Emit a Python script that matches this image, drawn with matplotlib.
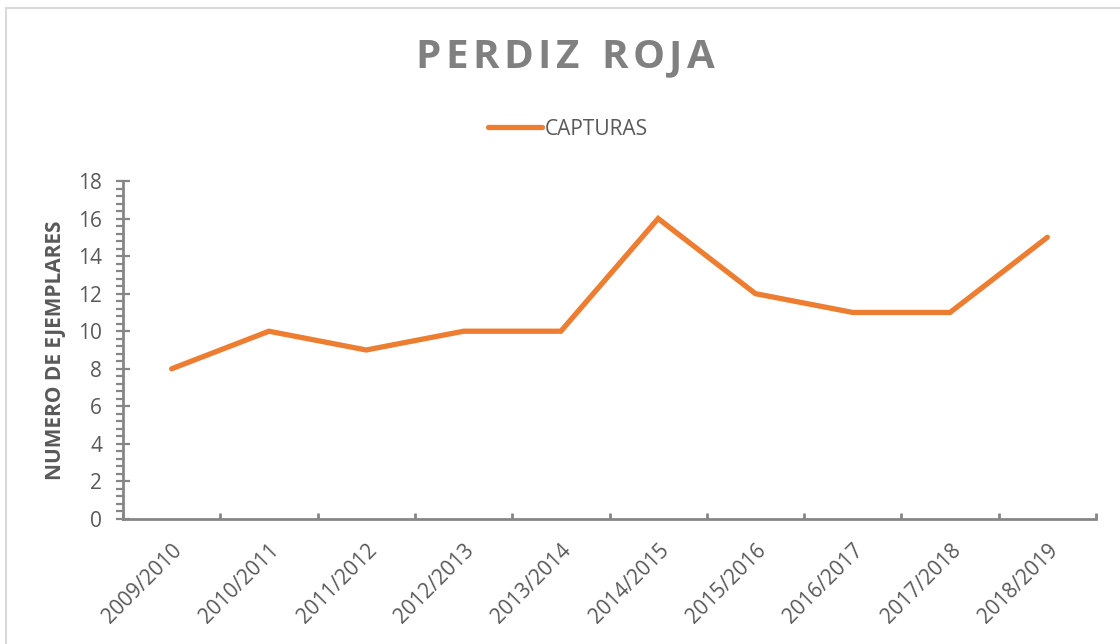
import matplotlib
matplotlib.use("Agg")
import matplotlib.pyplot as plt
from matplotlib.lines import Line2D
from matplotlib.ticker import MultipleLocator, FixedLocator

categories = ["2009/2010", "2010/2011", "2011/2012", "2012/2013", "2013/2014",
              "2014/2015", "2015/2016", "2016/2017", "2017/2018", "2018/2019"]
capturas = [8, 10, 9, 10, 10, 16, 12, 11, 11, 15]
title = "PERDIZ ROJA"
series_name = "CAPTURAS"
ylabel = "NUMERO DE EJEMPLARES"

ORANGE = "#ED7D31"
AXIS = "#868686"
TXT = "#595959"
FONT = "Open Sans"
FS = 15

W, H = 1120, 644
fig = plt.figure(figsize=(W / 100, H / 100), dpi=100)
fig.patch.set_facecolor("white")

ax = fig.add_axes([123 / W, 1 - 519 / H, (1096 - 123) / W, (519 - 181) / H])
x = list(range(len(categories)))
ax.plot(x, capturas, color=ORANGE, lw=3.8, solid_capstyle="round", solid_joinstyle="miter",
        label=series_name)

ax.set_xlim(-0.5, len(categories) - 0.5)
ax.set_ylim(0, 18)
for s in ["top", "right"]:
    ax.spines[s].set_visible(False)
for s in ["left", "bottom"]:
    ax.spines[s].set_color(AXIS)
    ax.spines[s].set_linewidth(2.0)

ax.yaxis.set_major_locator(MultipleLocator(2))
ax.yaxis.set_minor_locator(MultipleLocator(0.4))
ax.tick_params(axis="y", which="major", direction="inout", length=10, width=1.6,
               color=AXIS, labelsize=FS, labelcolor=TXT, pad=10)
ax.tick_params(axis="y", which="minor", direction="out", length=5, width=1.6, color=AXIS)
for lab in ax.get_yticklabels():
    lab.set_fontfamily(FONT)

# category ticks at boundaries, labels at centers
ax.xaxis.set_major_locator(FixedLocator([i - 0.5 for i in range(len(categories) + 1)]))
ax.xaxis.set_major_formatter(plt.NullFormatter())
ax.xaxis.set_minor_locator(FixedLocator(x))
ax.set_xticks(x, categories, minor=True)
ax.tick_params(axis="x", which="major", direction="in", length=4.5, width=2.0, color=AXIS)
ax.tick_params(axis="x", which="minor", length=0, labelsize=FS, labelcolor=TXT, pad=15)
for lab in ax.get_xticklabels(minor=True):
    lab.set_rotation(45)
    lab.set_ha("right")
    lab.set_va("top")
    lab.set_rotation_mode("anchor")
    lab.set_fontfamily(FONT)

ax.set_ylabel(ylabel, fontsize=FS, fontweight="bold", color=TXT, fontfamily=FONT)
ax.yaxis.set_label_coords((55 - 123) / 973, 0.5)
ax.yaxis.label.set_va("center")

# title with letter spacing
fig.canvas.draw()
renderer = fig.canvas.get_renderer()
tprops = dict(fontsize=29, fontweight="bold", color="#808080", fontfamily=FONT, va="center")
spacing = 4.5  # px
widths = []
for ch in title:
    t = fig.text(0, 0, ch if ch != " " else "I", **tprops)
    w = t.get_window_extent(renderer).width
    if ch == " ":
        w *= 1.0
    widths.append(w)
    t.remove()
total = sum(widths) + spacing * (len(title) - 1)
xpos = 565 - total / 2
for ch, w in zip(title, widths):
    if ch != " ":
        fig.text(xpos / W, 1 - 58 / H, ch, ha="left", **tprops)
    xpos += w + spacing

handle = Line2D([], [], color=ORANGE, lw=3.8, solid_capstyle="round")
leg = fig.legend([handle], [series_name], loc="center", bbox_to_anchor=(568 / W, 1 - 129 / H),
                 frameon=False, handlelength=2.6, handletextpad=0.12,
                 prop={"family": FONT, "size": FS})
for t in leg.get_texts():
    t.set_color(TXT)

# chart border (top and left visible)
fig.add_artist(Line2D([6 / W, 1], [1 - 8 / H, 1 - 8 / H], transform=fig.transFigure,
                      color="#D9D9D9", lw=1.5))
fig.add_artist(Line2D([6 / W, 6 / W], [0, 1 - 8 / H], transform=fig.transFigure,
                      color="#D9D9D9", lw=1.5))

fig.savefig("out.png", dpi=100, facecolor="white")
